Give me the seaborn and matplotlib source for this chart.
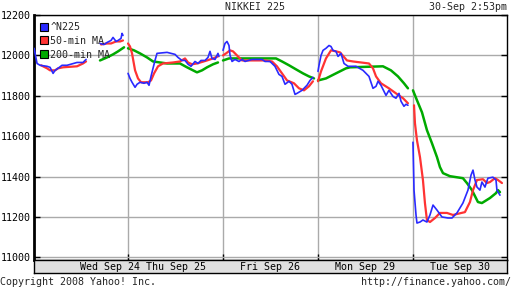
import numpy as np
import pandas as pd
import matplotlib
matplotlib.use("Agg")
import matplotlib.pyplot as plt
from matplotlib.lines import Line2D
import seaborn as sns

nan = np.nan

# time axis in trading days (0 = start of Wed Sep 24); NaN marks a session gap
n225_t = [0.011, 0.042, 0.074, 0.147, 0.179, 0.211, 0.232, 0.263, 0.305, 0.358, 0.463, 0.526, 0.558, nan,
          0.705, 0.747, 0.779, 0.821, 0.842, 0.874, 0.895, 0.926, 0.937, 0.947, nan,
          1.000, 1.021, 1.042, 1.074, 1.095, 1.126, 1.168, 1.200, 1.221, 1.242, 1.263, 1.284, 1.305, 1.411,
          1.495, 1.526, 1.568, 1.600, 1.632, 1.663, 1.705, 1.737, 1.768, 1.811, 1.842, 1.863, 1.884, 1.916,
          1.947, 1.958, nan,
          2.000, 2.021, 2.042, 2.063, 2.074, 2.095, 2.126, 2.168, 2.200, 2.232, 2.305, 2.411, 2.442, 2.495,
          2.547, 2.589, 2.621, 2.653, 2.695, 2.726, 2.758, 2.779, 2.832, 2.863, 2.884, 2.916, 2.947, nan,
          3.000, 3.011, 3.032, 3.053, 3.084, 3.116, 3.137, 3.158, 3.189, 3.211, 3.242, 3.274, 3.316, 3.400,
          3.474, 3.537, 3.579, 3.611, 3.632, 3.663, 3.716, 3.747, 3.789, 3.821, 3.853, 3.874, 3.905, 3.926,
          3.947, nan,
          4.000, 4.011, 4.032, 4.042, 4.074, 4.105, 4.147, 4.179, 4.211, 4.253, 4.305, 4.368, 4.411, 4.463,
          4.526, 4.579, 4.611, 4.632, 4.653, 4.674, 4.705, 4.726, 4.758, 4.789, 4.842, 4.874, 4.884, 4.916]
n225_v = [12035, 11960, 11951, 11946, 11941, 11911, 11926, 11936, 11951, 11951, 11965, 11965, 11980, nan,
          12059, 12054, 12064, 12074, 12089, 12069, 12074, 12084, 12109, 12099, nan,
          11911, 11886, 11867, 11842, 11857, 11867, 11862, 11867, 11852, 11896, 11936, 11975, 12010, 12015,
          12005, 11990, 11975, 11975, 11956, 11946, 11970, 11960, 11975, 11975, 11990, 12020, 11985, 11980,
          12010, 11995, nan,
          12025, 12059, 12069, 12049, 12000, 11970, 11980, 11970, 11980, 11970, 11980, 11980, 11970, 11970,
          11946, 11906, 11896, 11857, 11872, 11857, 11807, 11812, 11827, 11842, 11852, 11876, 11891, nan,
          11921, 11951, 12000, 12025, 12035, 12049, 12044, 12025, 12020, 11995, 12010, 11960, 11946, 11946,
          11926, 11896, 11837, 11847, 11872, 11852, 11802, 11827, 11797, 11788, 11812, 11773, 11748, 11758,
          11753, nan,
          11570, 11333, 11210, 11170, 11175, 11185, 11175, 11210, 11259, 11234, 11200, 11195, 11195, 11220,
          11269, 11333, 11407, 11432, 11383, 11348, 11333, 11373, 11348, 11392, 11397, 11383, 11333, 11308]

ma50_t = [0.084, 0.147, 0.179, 0.232, 0.263, 0.316, 0.463, 0.526, 0.558, nan,
          0.716, 0.779, 0.821, 0.874, 0.916, 0.947, nan,
          1.000, 1.021, 1.042, 1.074, 1.105, 1.137, 1.211, 1.242, 1.274, 1.316, 1.368, 1.474, 1.547, 1.600,
          1.632, 1.674, 1.726, 1.832, 1.895, 1.947, nan,
          2.000, 2.032, 2.074, 2.105, 2.147, 2.200, 2.305, 2.442, 2.516, 2.568, 2.621, 2.674, 2.747, 2.800,
          2.853, 2.905, 2.947, nan,
          3.000, 3.032, 3.084, 3.137, 3.189, 3.232, 3.305, 3.368, 3.537, 3.579, 3.611, 3.663, 3.747, 3.821,
          3.895, 3.947, nan,
          4.011, 4.021, 4.042, 4.074, 4.105, 4.126, 4.147, 4.179, 4.232, 4.284, 4.358, 4.421, 4.547, 4.600,
          4.632, 4.674, 4.737, 4.779, 4.811, 4.863, 4.895, 4.937]
ma50_v = [11951, 11936, 11926, 11926, 11936, 11941, 11946, 11960, 11970, nan,
          12054, 12059, 12059, 12069, 12069, 12074, nan,
          12059, 12044, 12010, 11926, 11886, 11867, 11867, 11876, 11911, 11946, 11960, 11965, 11970, 11985,
          11965, 11956, 11960, 11975, 11985, 11995, nan,
          12000, 12010, 12025, 12020, 12000, 11975, 11975, 11975, 11970, 11946, 11911, 11876, 11862, 11837,
          11827, 11847, 11872, nan,
          11872, 11921, 11985, 12025, 12020, 12015, 11975, 11970, 11960, 11936, 11896, 11862, 11837, 11812,
          11788, 11763, nan,
          11753, 11664, 11580, 11496, 11383, 11269, 11185, 11175, 11195, 11220, 11220, 11210, 11224, 11274,
          11333, 11383, 11387, 11368, 11373, 11392, 11383, 11368]

ma200_t = [0.705, 0.779, 0.842, 0.895, 0.958, nan,
           1.000, 1.063, 1.126, 1.200, 1.263, 1.337, 1.411, 1.547, 1.621, 1.684, 1.726, 1.779, 1.832, 1.895,
           1.947, nan,
           2.000, 2.063, 2.558, 2.621, 2.695, 2.768, 2.842, 2.905, 2.958, nan,
           3.000, 3.084, 3.189, 3.295, 3.337, 3.684, 3.768, 3.842, 3.905, 3.947, nan,
           4.000, 4.042, 4.095, 4.147, 4.200, 4.253, 4.284, 4.316, 4.389, 4.526, 4.568, 4.621, 4.684, 4.726,
           4.811, 4.874, 4.895, 4.916]
ma200_v = [11975, 11990, 12005, 12020, 12040, nan,
           12035, 12025, 12010, 11990, 11970, 11965, 11960, 11960, 11941, 11926, 11916, 11926, 11941, 11956,
           11965, nan,
           11975, 11985, 11985, 11970, 11951, 11931, 11911, 11896, 11886, nan,
           11876, 11886, 11911, 11936, 11941, 11946, 11926, 11896, 11862, 11837, nan,
           11827, 11778, 11718, 11630, 11565, 11496, 11447, 11417, 11402, 11392, 11368, 11333, 11274, 11269,
           11294, 11318, 11333, 11323]

series_names = ["^N225", "50-min MA", "200-min MA"]
series_colors = ["#2a2aff", "#ff3333", "#00aa00"]
day_labels = ["Wed Sep 24", "Thu Sep 25", "Fri Sep 26", "Mon Sep 29", "Tue Sep 30"]
day_label_pos = [0.81, 1.5, 2.5, 3.5, 4.5]
y_ticks = [11000, 11200, 11400, 11600, 11800, 12000, 12200]
day_bounds = [1, 2, 3, 4]


def to_frame(t, v, name):
    df = pd.DataFrame({"t": t, "v": v})
    df["seg"] = df["t"].isna().cumsum()
    df = df.dropna()
    df["series"] = name
    df["seg"] = name + df["seg"].astype(str)
    return df


data = pd.concat([to_frame(ma200_t, ma200_v, series_names[2]),
                  to_frame(ma50_t, ma50_v, series_names[1]),
                  to_frame(n225_t, n225_v, series_names[0])], ignore_index=True)

sns.set_theme(style="white")
mono = "DejaVu Sans Mono"
plt.rcParams["font.family"] = [mono]
fs = 7.2

fig = plt.figure(figsize=(5.12, 2.88), dpi=100)
fig.patch.set_facecolor("white")
ax = fig.add_axes([34 / 512, 1 - 260 / 288, 473 / 512, 245 / 288])

palette = dict(zip(series_names, series_colors))
widths = {series_names[0]: 1.2, series_names[1]: 1.6, series_names[2]: 1.8}
for name in [series_names[2], series_names[1], series_names[0]]:
    sub = data[data["series"] == name]
    sns.lineplot(data=sub, x="t", y="v", units="seg", estimator=None, sort=False,
                 color=palette[name], linewidth=widths[name], ax=ax, legend=False, zorder=3)

ax.set_xlim(0.01, 4.99)
ax.set_ylim(10987, 12198)
ax.set_xlabel("")
ax.set_ylabel("")
ax.set_yticks(y_ticks)
ax.set_yticklabels([str(v) for v in y_ticks], fontsize=fs, color="black")
ax.set_xticks(day_bounds)
ax.set_xticklabels([])
ax.grid(True, color="#aaaaaa", linewidth=1, zorder=0)
ax.tick_params(axis="y", direction="in", length=4, width=1, left=True, right=True, pad=2.5, colors="black")
ax.tick_params(axis="y", labelcolor="black")
ax.tick_params(axis="x", direction="in", length=4, width=1, bottom=True, colors="black")
for s in ["top", "right", "bottom"]:
    ax.spines[s].set_color("black")
    ax.spines[s].set_linewidth(1)
ax.spines["left"].set_color("black")
ax.spines["left"].set_linewidth(2)
ax.set_axisbelow(True)

handles = [Line2D([], [], marker="s", linestyle="None", markersize=6, markerfacecolor=c,
                  markeredgecolor="black", markeredgewidth=0.8) for c in series_colors]
leg = ax.legend(handles, series_names, loc="upper left", bbox_to_anchor=(0.0, 1.0), frameon=False,
                prop={"family": mono, "size": fs}, handlelength=0.6, handletextpad=0.35,
                labelspacing=0.38, borderaxespad=0.5, borderpad=0.2)

band = fig.add_axes([34 / 512, 1 - 273 / 288, 473 / 512, 13 / 288])
band.set_facecolor("#e0e0e0")
band.set_xlim(0.01, 4.99)
band.set_ylim(0, 1)
band.set_xticks([])
band.set_yticks([])
for s in band.spines.values():
    s.set_color("black")
    s.set_linewidth(1)
for lab, pos in zip(day_labels, day_label_pos):
    band.text(pos, 0.45, lab, ha="center", va="center", fontsize=fs, color="black", family=mono)

fig.text(255 / 512, 1 - 7 / 288, "NIKKEI 225", ha="center", va="center", fontsize=fs, family=mono)
fig.text(507 / 512, 1 - 7 / 288, "30-Sep 2:53pm", ha="right", va="center", fontsize=fs, family=mono)
fig.text(0.5 / 512, 1 - 282 / 288, "Copyright 2008 Yahoo! Inc.", ha="left", va="center", fontsize=fs, family=mono)
fig.text(511 / 512, 1 - 282 / 288, "http://finance.yahoo.com/", ha="right", va="center", fontsize=fs, family=mono)

fig.savefig("out.png", dpi=100, facecolor="white")
